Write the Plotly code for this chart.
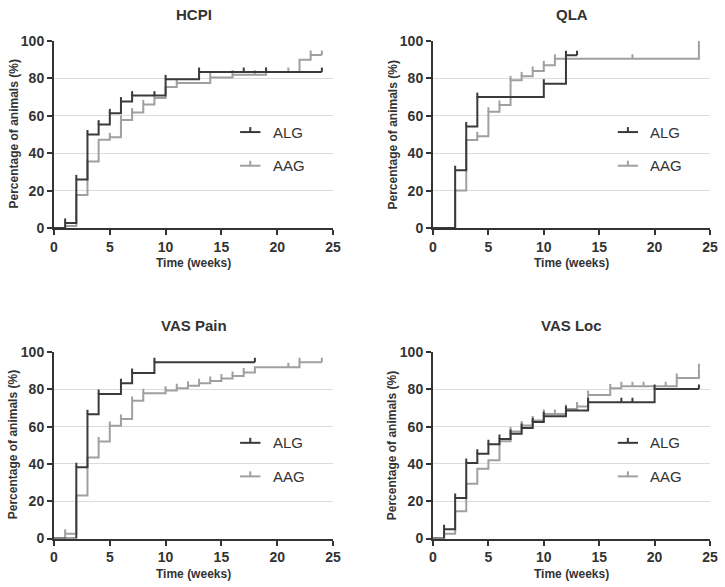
import plotly.graph_objects as go

# ---------------- data ----------------
panel_titles = ["HCPI", "QLA", "VAS Pain", "VAS Loc"]
series_names = ["ALG", "AAG"]
x_ticks = [0, 5, 10, 15, 20, 25]
y_ticks = [0, 20, 40, 60, 80, 100]

hcpi_alg_t = [0, 1, 2, 3, 4, 5, 6, 7, 10, 13, 24]
hcpi_alg_v = [0, 2.7, 26, 50, 55.3, 61.3, 67.6, 70.8, 79.5, 83.4, 83.4]
hcpi_alg_cens = [1, 2, 3, 4, 5, 6, 7, 9, 10, 13, 17, 19, 24]
hcpi_aag_t = [0, 1, 2, 3, 4, 5, 6, 7, 8, 9, 10, 11, 14, 16, 19, 22, 23, 24]
hcpi_aag_v = [0, 1.1, 17.6, 35.6, 47.2, 48.5, 57.8, 61.7, 66.1, 69.5, 75.4, 77.5, 80.5, 82.0, 83.4, 90.0, 92.5, 92.5]
hcpi_aag_cens = [5, 6, 7, 8, 9, 11, 14, 16, 18, 19, 21, 23, 24]

qla_alg_t = [0, 2, 3, 4, 10, 12, 13]
qla_alg_v = [0, 30.9, 54.3, 70.0, 77.2, 92.4, 92.4]
qla_alg_cens = [2, 3, 4, 10, 12, 13]
qla_aag_t = [0, 2, 3, 4, 5, 6, 7, 8, 9, 10, 11, 24]
qla_aag_v = [0, 20.1, 47.0, 49.0, 62.2, 65.8, 79.0, 81.1, 84.0, 87.0, 90.5, 100]
qla_aag_cens = [4, 5, 6, 7, 8, 9, 10, 11, 18, 24]

pain_alg_t = [0, 2, 3, 4, 6, 7, 9, 18]
pain_alg_v = [0, 38.2, 66.6, 77.5, 83.2, 88.8, 94.5, 94.5]
pain_alg_cens = [2, 3, 4, 6, 7, 9, 18]
pain_aag_t = [0, 1, 2, 3, 4, 5, 6, 7, 8, 10, 11, 12, 13, 14, 15, 16, 17, 18, 22, 24]
pain_aag_v = [0, 2.5, 23.0, 43.4, 52.0, 60.4, 64.1, 73.8, 77.9, 79.3, 80.6, 81.9, 83.2, 84.5, 85.8, 87.1, 89.0, 91.8, 94.5, 94.5]
pain_aag_cens = [1, 4, 5, 6, 7, 8, 10, 11, 12, 13, 14, 15, 16, 17, 21, 22, 24]

loc_alg_t = [0, 1, 2, 3, 4, 5, 6, 7, 8, 9, 10, 12, 14, 20, 24]
loc_alg_v = [0, 5.0, 21.7, 40.5, 45.5, 50.6, 53.3, 56.1, 59.2, 62.4, 65.6, 68.6, 73.1, 80.2, 80.2]
loc_alg_cens = [1, 2, 3, 4, 5, 6, 7, 8, 9, 10, 12, 14, 17, 18, 20, 24]
loc_aag_t = [0, 1, 2, 3, 4, 5, 6, 7, 8, 9, 10, 12, 13, 14, 16, 17, 22, 24]
loc_aag_v = [0, 2.5, 14.6, 29.4, 37.4, 41.9, 52.2, 57.4, 60.6, 63.3, 66.8, 69.5, 70.8, 76.9, 80.5, 81.6, 86.1, 91.3]
loc_aag_cens = [7, 8, 9, 10, 11, 12, 13, 14, 16, 17, 18, 19, 21, 22, 24]

panels = [
    [(hcpi_alg_t, hcpi_alg_v, hcpi_alg_cens), (hcpi_aag_t, hcpi_aag_v, hcpi_aag_cens)],
    [(qla_alg_t, qla_alg_v, qla_alg_cens), (qla_aag_t, qla_aag_v, qla_aag_cens)],
    [(pain_alg_t, pain_alg_v, pain_alg_cens), (pain_aag_t, pain_aag_v, pain_aag_cens)],
    [(loc_alg_t, loc_alg_v, loc_alg_cens), (loc_aag_t, loc_aag_v, loc_aag_cens)],
]

# ---------------- style ----------------
W, H = 725, 587
DARK = "#3a3a3a"
GRAY = "#a0a0a0"
AXIS = "#333333"
colors = [DARK, GRAY]
TICK_LEN = 2.4  # censor tick length in y units
FONT = "Liberation Sans, Arial, sans-serif"

# plot areas in pixels: (x0, x1, ytop, ybottom)
areas = [
    (54, 333, 41, 228),
    (433, 710, 41, 228),
    (54, 333, 352, 538.5),
    (433, 710, 352, 538.5),
]


def step_value(ts, vs, t):
    val = vs[0]
    for tt, vv in zip(ts, vs):
        if tt <= t:
            val = vv
    return val


fig = go.Figure()
layout = {}
annotations = []
shapes = []

for i, (area, data) in enumerate(zip(areas, panels)):
    x0, x1, yt, yb = area
    k = "" if i == 0 else str(i + 1)
    xa, ya = "x" + k, "y" + k
    layout["xaxis" + k] = dict(
        domain=[x0 / W, x1 / W], anchor=ya, range=[0, 25], tickvals=x_ticks,
        automargin=False,
        showline=True, linecolor=AXIS, linewidth=2, ticks="outside", ticklen=5,
        tickwidth=2, tickcolor=AXIS, showgrid=False, zeroline=False,
        tickfont=dict(family=FONT, size=14, color=AXIS, weight="bold"),
    )
    layout["yaxis" + k] = dict(
        domain=[1 - yb / H, 1 - yt / H], anchor=xa, range=[0, 100], tickvals=y_ticks,
        automargin=False,
        showline=True, linecolor=AXIS, linewidth=2, ticks="outside", ticklen=5,
        tickwidth=2, tickcolor=AXIS, showgrid=True, gridcolor="#dcdcdc", gridwidth=1,
        zeroline=False,
        tickfont=dict(family=FONT, size=14, color=AXIS, weight="bold"),
    )
    # draw gray first, dark on top
    for j in [1, 0]:
        ts, vs, cens = data[j]
        fig.add_trace(go.Scatter(
            x=ts, y=vs, mode="lines", line=dict(color=colors[j], width=2, shape="hv"),
            xaxis=xa, yaxis=ya, showlegend=False, hoverinfo="skip",
        ))
        cx, cy = [], []
        for t in cens:
            v = step_value(ts, vs, t)
            cx += [t, t, None]
            cy += [v, v + TICK_LEN, None]
        fig.add_trace(go.Scatter(
            x=cx, y=cy, mode="lines", line=dict(color=colors[j], width=2),
            xaxis=xa, yaxis=ya, showlegend=False, hoverinfo="skip",
        ))

    # panel title
    cx_pix = (x0 + x1) / 2
    annotations.append(dict(
        text="<b>%s</b>" % panel_titles[i], x=cx_pix / W, y=1 - (yt - 27) / H,
        xref="paper", yref="paper", showarrow=False,
        font=dict(family=FONT, size=15, color=AXIS), xanchor="center", yanchor="middle",
    ))
    # axis titles
    annotations.append(dict(
        text="<b>Time (weeks)</b>", x=cx_pix / W, y=1 - (yb + 35) / H,
        xref="paper", yref="paper", showarrow=False,
        font=dict(family=FONT, size=12, color=AXIS), xanchor="center", yanchor="middle",
    ))
    annotations.append(dict(
        text="<b>Percentage of animals (%)</b>", x=(x0 - 41) / W, y=1 - ((yt + yb) / 2) / H,
        xref="paper", yref="paper", showarrow=False, textangle=-90,
        font=dict(family=FONT, size=12, color=AXIS), xanchor="center", yanchor="middle",
    ))
    # legend
    for j, ly in enumerate([0.513, 0.333]):
        shapes.append(dict(type="line", xref=xa + " domain", yref=ya + " domain",
                           x0=0.667, x1=0.74, y0=ly, y1=ly,
                           line=dict(color=colors[j], width=2)))
        tick_h = 5.0 / (yb - yt)
        shapes.append(dict(type="line", xref=xa + " domain", yref=ya + " domain",
                           x0=0.7035, x1=0.7035, y0=ly, y1=ly + tick_h,
                           line=dict(color=colors[j], width=2)))
        annotations.append(dict(
            text=series_names[j], x=0.776, y=ly, xref=xa + " domain", yref=ya + " domain",
            showarrow=False, xanchor="left", yanchor="middle",
            font=dict(family=FONT, size=15, color=AXIS),
        ))

fig.update_layout(
    width=W, height=H, margin=dict(l=0, r=0, t=0, b=0),
    paper_bgcolor="white", plot_bgcolor="white",
    showlegend=False, annotations=annotations, shapes=shapes,
    **layout,
)

fig.write_html("out.html", config={"displayModeBar": False},
               post_script="document.body.style.margin='0';")
